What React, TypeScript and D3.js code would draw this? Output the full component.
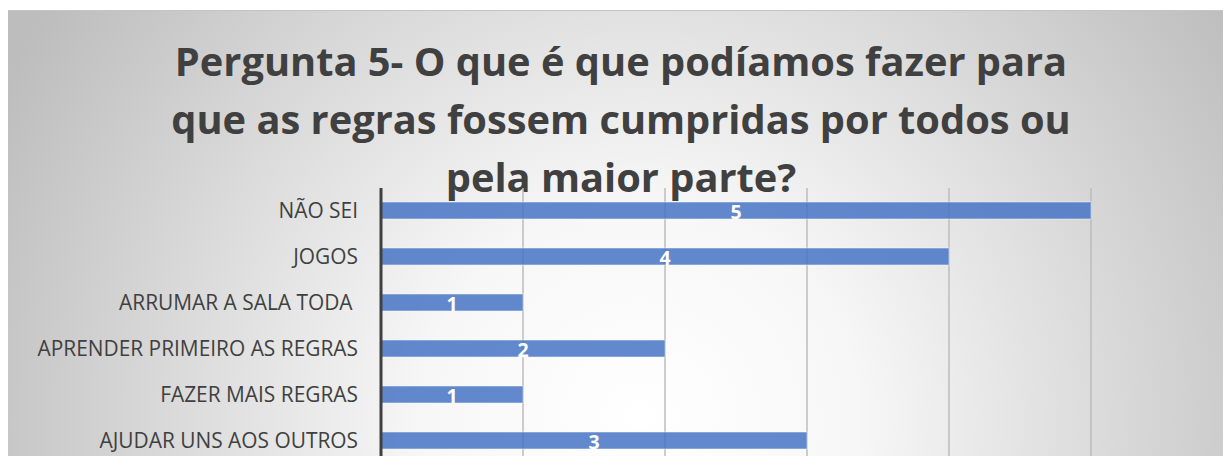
import React from "react";
import * as d3 from "d3";

const categories = [
  "NÃO SEI",
  "JOGOS",
  "ARRUMAR A SALA TODA ",
  "APRENDER PRIMEIRO AS REGRAS",
  "FAZER MAIS REGRAS",
  "AJUDAR UNS AOS OUTROS",
];
const values = [5, 4, 1, 2, 1, 3];
const titleLines = [
  "Pergunta 5- O que é que podíamos fazer para",
  "que as regras fossem cumpridas por todos ou",
  "pela maior parte?",
];
const ticks = [0, 1, 2, 3, 4, 5];

const W = 1223;
const H = 456;
const FONT = "'Open Sans', sans-serif";

export default function App() {
  const x = d3.scaleLinear().domain([0, 5]).range([381, 1091]);
  const y = d3
    .scaleBand<string>()
    .domain(categories)
    .range([187.5, 463.5])
    .paddingInner(0.63)
    .paddingOuter(0.315);

  return (
    <div style={{ position: "absolute", left: 0, top: 0 }}>
      <svg width={W} height={H} style={{ display: "block" }}>
        <defs>
          <radialGradient id="bg" gradientUnits="userSpaceOnUse" cx={640} cy={420} r={720}>
            <stop offset="0" stopColor="#ffffff" />
            <stop offset="0.3" stopColor="#f7f7f7" />
            <stop offset="1" stopColor="#bdbdbd" />
          </radialGradient>
        </defs>
        <rect x={0} y={0} width={W} height={H} fill="#ffffff" />
        <rect x={8} y={10} width={W - 8} height={H - 10} fill="url(#bg)" />
        <line x1={8} x2={W} y1={10.5} y2={10.5} stroke="#c4c4c4" strokeWidth={1} />

        {titleLines.map((t, i) => (
          <text
            key={i}
            x={621}
            y={75.5 + i * 58}
            textAnchor="middle"
            fontFamily={FONT}
            fontWeight={700}
            fontSize={39.8}
            fill="#404040"
          >
            {t}
          </text>
        ))}

        {ticks.slice(1).map((t) => (
          <line
            key={t}
            x1={x(t)}
            x2={x(t)}
            y1={188}
            y2={H}
            stroke="#bcbcbc"
            strokeWidth={1.5}
          />
        ))}

        {categories.map((c, i) => (
          <g key={c}>
            <rect
              x={x(0)}
              y={y(c)!}
              width={x(values[i]) - x(0)}
              height={y.bandwidth()}
              fill="#4472c4"
              fillOpacity={0.84}
              stroke="#ffffff"
              strokeOpacity={0.5}
              strokeWidth={1}
            />
            <text
              x={(x(0) + x(values[i])) / 2}
              y={y(c)! + y.bandwidth() / 2 + 8.5}
              textAnchor="middle"
              fontFamily={FONT}
              fontWeight={700}
              fontSize={19.5}
              fill="#ffffff"
            >
              {values[i]}
            </text>
            <text
              x={358}
              y={y(c)! + y.bandwidth() / 2 + 7}
              textAnchor="end"
              fontFamily={FONT}
              fontSize={20.9}
              fill="#404040"
              style={{ whiteSpace: "pre" }}
            >
              {c}
            </text>
          </g>
        ))}

        <line x1={x(0)} x2={x(0)} y1={188} y2={H} stroke="#404040" strokeWidth={3} />
      </svg>
    </div>
  );
}
